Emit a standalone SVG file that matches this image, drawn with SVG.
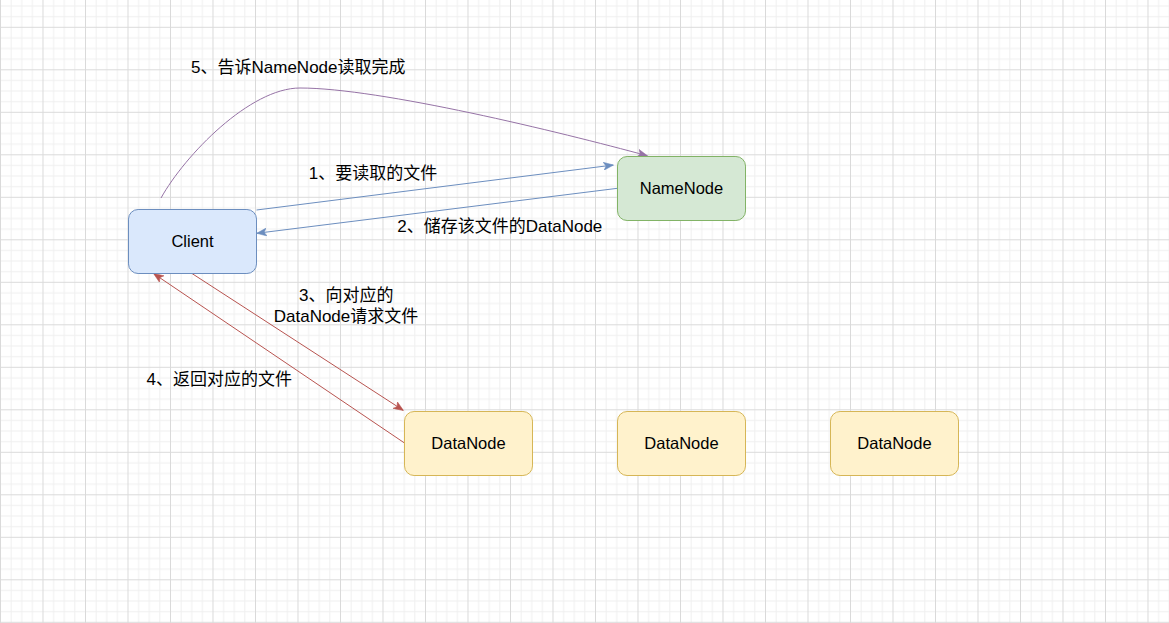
<svg xmlns="http://www.w3.org/2000/svg" width="1169" height="623" viewBox="0 0 1169 623">
<defs>
<pattern id="grid" patternUnits="userSpaceOnUse" x="0" y="26.8" width="42.5" height="42.5">
<path d="M11.125,0V42.5M21.75,0V42.5M32.375,0V42.5M0,11.125H42.5M0,21.75H42.5M0,32.375H42.5" stroke="#f0f0f0" stroke-width="1" fill="none"/>
<path d="M0.5,0V42.5M0,0.5H42.5" stroke="#dadada" stroke-width="1" fill="none"/>
</pattern>
<marker id="arrBlue" markerUnits="userSpaceOnUse" viewBox="0 0 10 8" refX="10" refY="4" markerWidth="10" markerHeight="8" orient="auto">
<path d="M10,4L0,0L2.5,4L0,8Z" fill="#6c8ebf" stroke="#6c8ebf" stroke-width="0.5"/>
</marker>
<marker id="arrRed" markerUnits="userSpaceOnUse" viewBox="0 0 10 8" refX="10" refY="4" markerWidth="10" markerHeight="8" orient="auto">
<path d="M10,4L0,0L2.5,4L0,8Z" fill="#b85450" stroke="#b85450" stroke-width="0.5"/>
</marker>
<marker id="arrPurple" markerUnits="userSpaceOnUse" viewBox="0 0 10 8" refX="10" refY="4" markerWidth="10" markerHeight="8" orient="auto">
<path d="M10,4L0,0L2.5,4L0,8Z" fill="#9673a6" stroke="#9673a6" stroke-width="0.5"/>
</marker>
</defs>
<style>
.node{stroke-width:1}
.ntext{font-family:"Liberation Sans","Noto Sans CJK SC",sans-serif;font-size:16.5px;fill:#000;text-anchor:middle}
.label{font-family:"Liberation Sans","Noto Sans CJK SC",sans-serif;font-size:17px;fill:#000;text-anchor:middle}
.edge{fill:none;stroke-width:1}
</style>
<rect x="0" y="0" width="1169" height="623" fill="#ffffff"/>
<rect x="0" y="0" width="1169" height="623" fill="url(#grid)"/>
<g id="connectors">
<path id="e1" class="edge" d="M256.5,210L613.5,165" stroke="#6c8ebf" marker-end="url(#arrBlue)"/>
<path id="e2" class="edge" d="M617.5,188.3L256.7,233.3" stroke="#6c8ebf" marker-end="url(#arrBlue)"/>
<path id="e3" class="edge" d="M192,273.5L403.5,410.5" stroke="#b85450" marker-end="url(#arrRed)"/>
<path id="e4" class="edge" d="M404.5,443L153.5,273.5" stroke="#b85450" marker-end="url(#arrRed)"/>
<path id="e5" class="edge" d="M161,198C185,155 250,88 300,88C380,88 560,132 647.5,155.8" stroke="#9673a6" marker-end="url(#arrPurple)"/>
<text class="label" x="373" y="179.3">1、要读取的文件</text>
<text class="label" x="499.8" y="231.7">2、储存该文件的DataNode</text>
<text class="label" x="346.2" y="301">3、向对应的</text>
<text class="label" x="346" y="321.7">DataNode请求文件</text>
<text class="label" x="219.2" y="385">4、返回对应的文件</text>
<text class="label" x="298.3" y="73.3">5、告诉NameNode读取完成</text>
</g>
<g id="client">
<rect class="node" x="128.5" y="209.5" width="128" height="64" rx="9.6" fill="#dae8fc" stroke="#6c8ebf"/>
<text class="ntext" x="192.5" y="247.2">Client</text>
</g>
<g id="namenode">
<rect class="node" x="617.5" y="156.5" width="128" height="64" rx="9.6" fill="#d5e8d4" stroke="#82b366"/>
<text class="ntext" x="681.5" y="194.2">NameNode</text>
</g>
<g id="datanode1">
<rect class="node" x="404.5" y="411.5" width="128" height="64" rx="9.6" fill="#fff2cc" stroke="#d6b656"/>
<text class="ntext" x="468.5" y="449.2">DataNode</text>
</g>
<g id="datanode2">
<rect class="node" x="617.5" y="411.5" width="128" height="64" rx="9.6" fill="#fff2cc" stroke="#d6b656"/>
<text class="ntext" x="681.5" y="449.2">DataNode</text>
</g>
<g id="datanode3">
<rect class="node" x="830.5" y="411.5" width="128" height="64" rx="9.6" fill="#fff2cc" stroke="#d6b656"/>
<text class="ntext" x="894.5" y="449.2">DataNode</text>
</g>
</svg>
